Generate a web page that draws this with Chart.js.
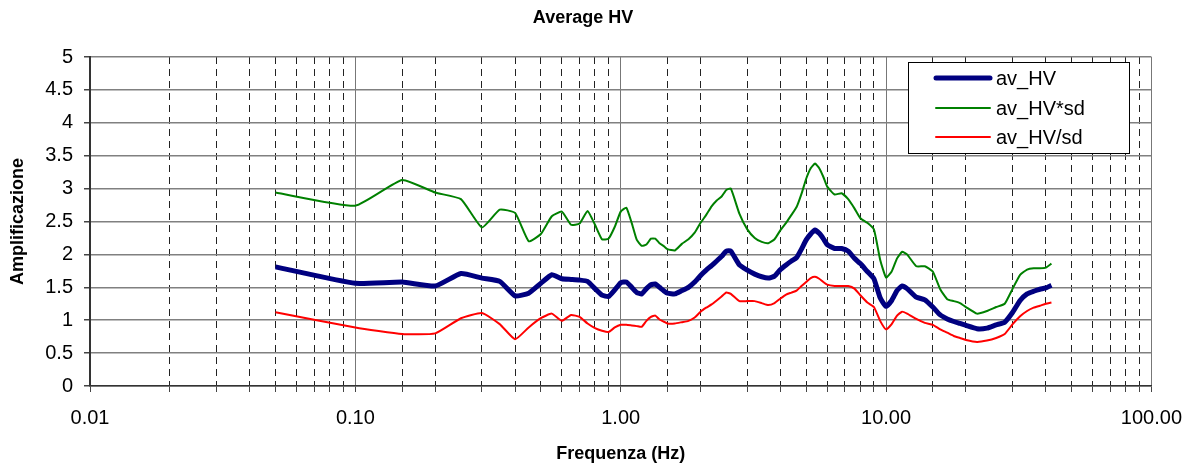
<!DOCTYPE html>
<html>
<head>
<meta charset="utf-8">
<title>Average HV</title>
<script src="https://cdn.jsdelivr.net/npm/chart.js@4/dist/chart.umd.min.js"></script>
<style>
  html, body { margin: 0; padding: 0; background: #fff; }
  #wrap { width: 1196px; height: 466px; }
</style>
</head>
<body>
<div id="wrap"><canvas id="hvChart" width="1196" height="466"></canvas></div>
<script>
/* Average HV - H/V spectral ratio */

const freqs = [0.05, 0.1, 0.15, 0.2, 0.25, 0.3, 0.35, 0.4, 0.45, 0.5, 0.55, 0.6, 0.65, 0.7, 0.75, 0.8, 0.85, 0.9, 0.95,
  1.0, 1.05, 1.1, 1.15, 1.2, 1.25, 1.3, 1.35, 1.4, 1.45, 1.5, 1.6, 1.7, 1.8, 1.9,
  2.0, 2.1, 2.2, 2.3, 2.4, 2.5, 2.6, 2.8, 3.0, 3.2, 3.4, 3.6, 3.8, 4.0, 4.2, 4.4, 4.6, 4.8,
  5.0, 5.2, 5.4, 5.6, 5.8, 6.0, 6.4, 6.8, 7.2, 7.6, 8.0, 8.5, 9.0, 9.5,
  10, 10.5, 11, 11.5, 12, 13, 14, 15, 16, 17, 18, 19, 20, 22, 24, 26, 28, 30, 32, 34, 36, 38, 40, 42];

const avHV = [1.81, 1.56, 1.58, 1.52, 1.71, 1.64, 1.59, 1.37, 1.41, 1.56, 1.69, 1.63, 1.62, 1.61, 1.59, 1.48, 1.38, 1.36, 1.46,
  1.57, 1.58, 1.50, 1.42, 1.40, 1.48, 1.54, 1.55, 1.50, 1.45, 1.41, 1.40, 1.45, 1.50, 1.58,
  1.68, 1.76, 1.83, 1.90, 1.97, 2.05, 2.05, 1.84, 1.76, 1.70, 1.66, 1.64, 1.67, 1.77, 1.84, 1.90, 1.95, 2.08,
  2.22, 2.31, 2.37, 2.32, 2.24, 2.15, 2.09, 2.09, 2.05, 1.94, 1.86, 1.74, 1.63, 1.34,
  1.21, 1.30, 1.45, 1.52, 1.48, 1.35, 1.31, 1.20, 1.08, 1.02, 0.98, 0.95, 0.92, 0.87, 0.88, 0.93, 0.97, 1.12, 1.30, 1.40, 1.44, 1.47, 1.49, 1.53];

const avHVxSd = [2.94, 2.74, 3.13, 2.94, 2.84, 2.41, 2.68, 2.63, 2.20, 2.31, 2.58, 2.65, 2.45, 2.47, 2.66, 2.45, 2.23, 2.24, 2.42,
  2.65, 2.71, 2.48, 2.22, 2.13, 2.15, 2.24, 2.24, 2.17, 2.13, 2.08, 2.06, 2.16, 2.23, 2.33,
  2.48, 2.60, 2.73, 2.82, 2.88, 2.98, 3.00, 2.62, 2.38, 2.25, 2.19, 2.17, 2.23, 2.37, 2.48, 2.60, 2.72, 2.92,
  3.15, 3.31, 3.38, 3.31, 3.18, 3.03, 2.91, 2.93, 2.84, 2.70, 2.55, 2.48, 2.38, 1.92,
  1.65, 1.74, 1.94, 2.04, 2.00, 1.82, 1.82, 1.74, 1.47, 1.32, 1.29, 1.26, 1.20, 1.10, 1.14, 1.20, 1.25, 1.48, 1.69, 1.77, 1.79, 1.79, 1.80, 1.86];

const avHVdivSd = [1.12, 0.89, 0.79, 0.80, 1.03, 1.11, 0.94, 0.71, 0.89, 1.03, 1.10, 0.99, 1.08, 1.05, 0.95, 0.88, 0.84, 0.82, 0.89,
  0.93, 0.93, 0.92, 0.91, 0.90, 0.99, 1.05, 1.07, 1.01, 0.98, 0.95, 0.95, 0.97, 0.99, 1.04,
  1.13, 1.19, 1.24, 1.30, 1.36, 1.42, 1.40, 1.29, 1.29, 1.29, 1.26, 1.23, 1.26, 1.33, 1.39, 1.42, 1.45, 1.52,
  1.58, 1.64, 1.66, 1.63, 1.58, 1.54, 1.52, 1.52, 1.52, 1.48, 1.38, 1.27, 1.20, 0.99,
  0.86, 0.94, 1.07, 1.13, 1.10, 1.02, 0.96, 0.93, 0.86, 0.81, 0.76, 0.73, 0.70, 0.67, 0.69, 0.73, 0.79, 0.94, 1.06, 1.14, 1.19, 1.22, 1.25, 1.27];

const seriesNames = ['av_HV', 'av_HV*sd', 'av_HV/sd'];
const seriesColors = ['#000080', '#008000', '#ff0000'];
const seriesWidths = [5, 2, 2];

const FONT = '"Liberation Sans", Arial, sans-serif';

function toPoints(vals) {
  return freqs.map((f, i) => ({ x: f, y: vals[i] }));
}

function isDecade(v) {
  const l = Math.log10(v);
  return Math.abs(l - Math.round(l)) < 1e-6;
}

// title + boxed legend drawn on top
const overlay = {
  id: 'overlay',
  afterDraw(chart) {
    const ctx = chart.ctx;
    ctx.save();
    ctx.fillStyle = '#000';
    ctx.font = 'bold 18px ' + FONT;
    ctx.textAlign = 'center';
    ctx.textBaseline = 'middle';
    ctx.fillText('Average HV', 583, 18);

    // legend box
    ctx.fillStyle = '#fff';
    ctx.fillRect(908, 62, 221, 91);
    ctx.strokeStyle = '#000';
    ctx.lineWidth = 1;
    ctx.strokeRect(908.5, 62.5, 221, 91);
    const rows = [78, 108, 137];
    ctx.font = '20px ' + FONT;
    ctx.textAlign = 'left';
    chart.data.datasets.forEach((ds, i) => {
      ctx.strokeStyle = ds.borderColor;
      ctx.lineWidth = ds.borderWidth;
      ctx.lineCap = 'round';
      ctx.beginPath();
      ctx.moveTo(936, rows[i]);
      ctx.lineTo(990, rows[i]);
      ctx.stroke();
      ctx.fillStyle = '#000';
      ctx.fillText(ds.label, 996, rows[i] + 1);
    });
    ctx.restore();
  }
};

const datasets = [avHV, avHVxSd, avHVdivSd].map((vals, i) => ({
  label: seriesNames[i],
  data: toPoints(vals),
  borderColor: seriesColors[i],
  backgroundColor: seriesColors[i],
  borderWidth: seriesWidths[i],
  pointRadius: 0,
  tension: 0.15,
  fill: false,
  order: i === 0 ? 0 : 1
}));

new Chart(document.getElementById('hvChart'), {
  type: 'line',
  data: { datasets },
  options: {
    responsive: false,
    animation: false,
    events: [],
    layout: { padding: { top: 57, right: 41, bottom: 0, left: 0 } },
    plugins: {
      legend: { display: false },
      title: { display: false },
      tooltip: { enabled: false }
    },
    scales: {
      x: {
        type: 'logarithmic',
        min: 0.01,
        max: 100,
        afterFit: s => { s.height = 80; },
        ticks: {
          autoSkip: false,
          maxRotation: 0,
          padding: 14,
          color: '#000',
          font: { family: FONT, size: 20 },
          callback: v => isDecade(v) ? Number(v).toFixed(2) : ''
        },
        grid: {
          color: c => isDecade(c.tick.value) ? '#777' : '#222',
          lineWidth: 1,
          tickLength: 6,
          tickColor: '#444'
        },
        border: {
          display: true,
          color: '#333',
          width: 1.5,
          dash: c => (c.tick && !isDecade(c.tick.value)) ? [7, 5] : []
        },
        title: {
          display: true,
          text: 'Frequenza (Hz)',
          color: '#000',
          font: { family: FONT, size: 18, weight: 'bold' },
          padding: { top: 0, bottom: 1 }
        }
      },
      y: {
        min: 0,
        max: 5,
        afterFit: s => { s.width = 90; },
        ticks: {
          stepSize: 0.5,
          padding: 11,
          color: '#000',
          font: { family: FONT, size: 20 },
          callback: v => String(v)
        },
        grid: {
          color: '#808080',
          lineWidth: 1.5,
          tickLength: 6,
          tickColor: '#444'
        },
        border: { display: true, color: '#333', width: 2 },
        title: {
          display: true,
          text: 'Amplificazione',
          color: '#000',
          font: { family: FONT, size: 18, weight: 'bold' },
          padding: { top: 7, bottom: 0 }
        }
      }
    }
  },
  plugins: [overlay]
});
</script>
</body>
</html>
